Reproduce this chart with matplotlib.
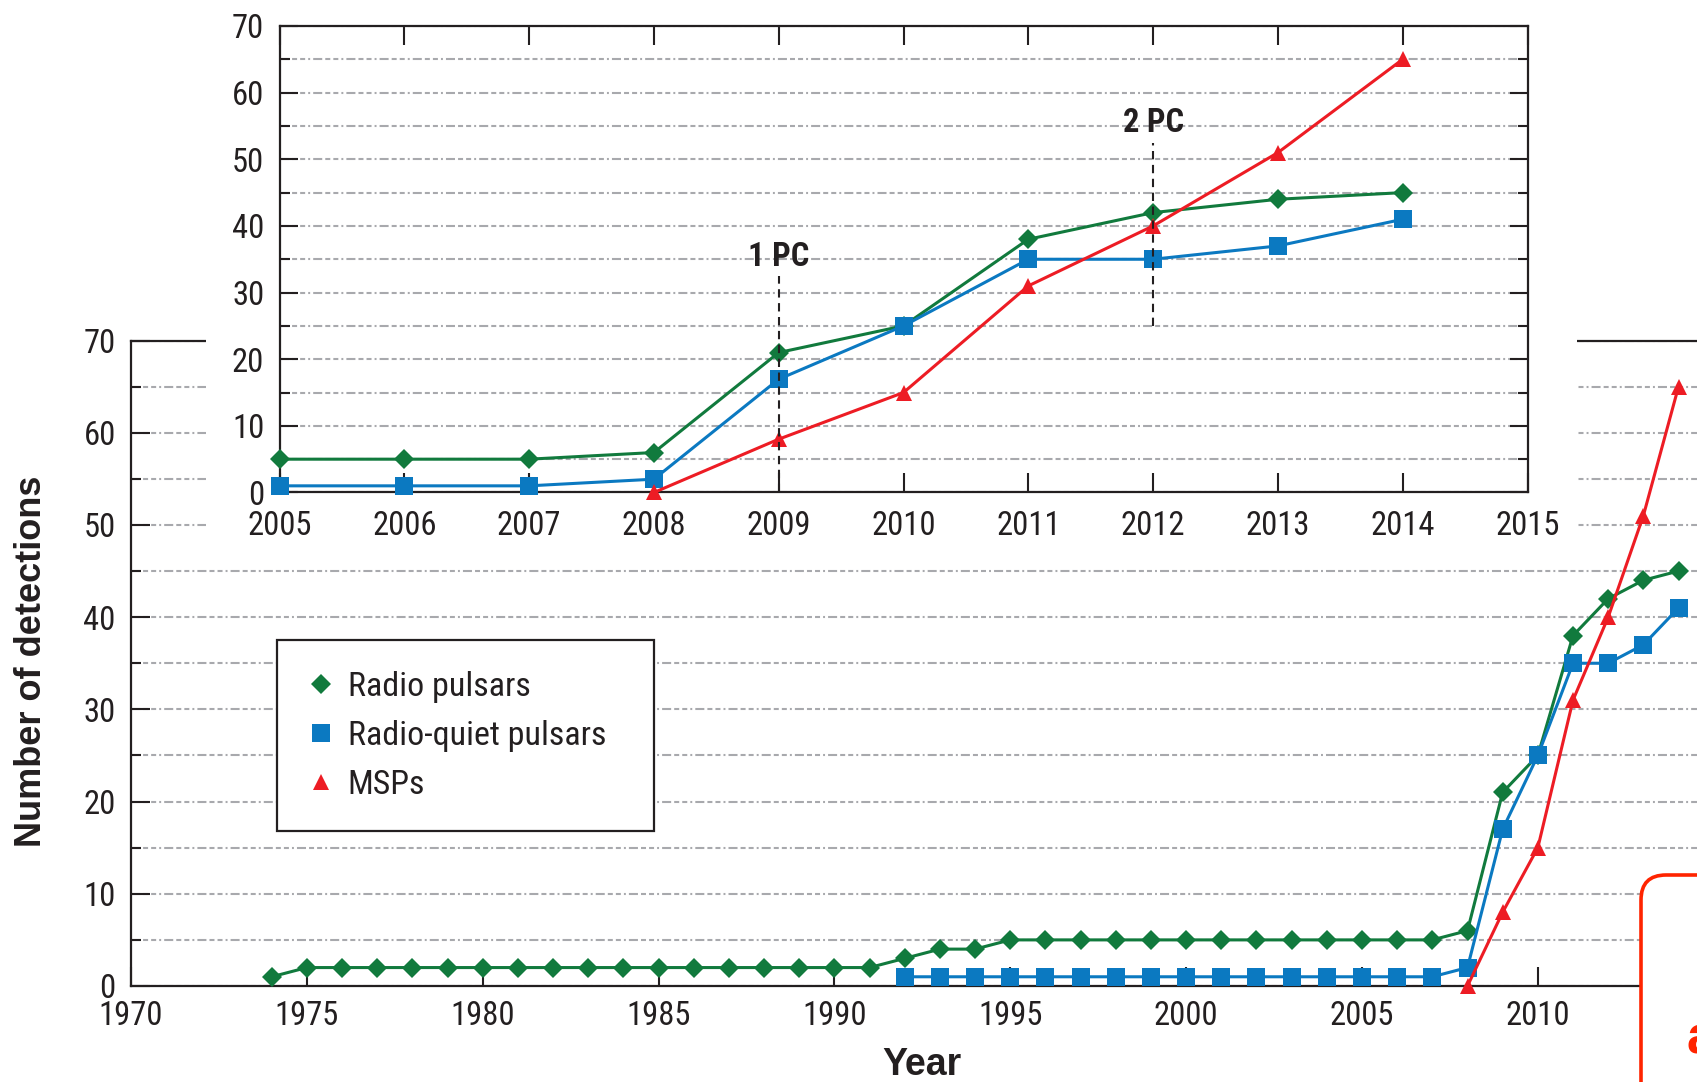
import matplotlib
matplotlib.use("Agg")
import matplotlib.pyplot as plt
from matplotlib import font_manager
from matplotlib.lines import Line2D
from matplotlib.patches import Rectangle, FancyBboxPatch
from matplotlib.ticker import MultipleLocator

# ---------------- data ----------------
radio_years = list(range(1974, 2015))
radio_pulsars = [1,
                 2, 2, 2, 2, 2, 2, 2, 2, 2, 2, 2, 2, 2, 2, 2, 2, 2,   # 1975-1991
                 3, 4, 4,                                              # 1992-1994
                 5, 5, 5, 5, 5, 5, 5, 5, 5, 5, 5, 5, 5,                # 1995-2007
                 6, 21, 25, 38, 42, 44, 45]                            # 2008-2014
quiet_years = list(range(1992, 2015))
radio_quiet = [1, 1, 1, 1, 1, 1, 1, 1, 1, 1, 1, 1, 1, 1, 1, 1,        # 1992-2007
               2, 17, 25, 35, 35, 37, 41]                              # 2008-2014
msp_years = list(range(2008, 2015))
msps = [0, 8, 15, 31, 40, 51, 65]

series_labels = ["Radio pulsars", "Radio-quiet pulsars", "MSPs"]
main_xticks = [1970, 1975, 1980, 1985, 1990, 1995, 2000, 2005, 2010, 2015]
inset_xticks = [2005, 2006, 2007, 2008, 2009, 2010, 2011, 2012, 2013, 2014, 2015]
yticks = [0, 10, 20, 30, 40, 50, 60, 70]
pc_years = [2009, 2012]
pc_labels = ["1 PC", "2 PC"]
pc_spans = [(0, 32.5), (25, 52.5)]
pc_label_y = [35.4, 55.4]
panel_letter = "a"

# ---------------- style ----------------
avail = {f.name for f in font_manager.fontManager.ttflist}
def pick(cands):
    for c in cands:
        if c in avail:
            return c
    return "DejaVu Sans"
NARROW = pick(["Liberation Sans Narrow", "Roboto Condensed", "Open Sans Condensed", "Liberation Sans"])
BOLDF = pick(["Liberation Sans Narrow", "Liberation Sans", "Open Sans"])
plt.rcParams["font.family"] = [NARROW, "DejaVu Sans"]
plt.rcParams["lines.scale_dashes"] = False

GREEN = "#117a3d"
BLUE = "#0b79c1"
RED = "#ed1c24"
GRID = "#a8a9ad"
TXT = "#231f20"
grid_ls = (0, (6.5, 2.2, 3.6, 2.2, 3.6, 2.2, 1.4, 2.2))

W, H = 1697, 1082
fig = plt.figure(figsize=(W / 100, H / 100), dpi=100)
fig.patch.set_facecolor("white")

def box(x0, y0, x1, y1):
    return [x0 / W, 1 - y1 / H, (x1 - x0) / W, (y1 - y0) / H]

styles = [
    dict(color=GREEN, marker="D", ms=10.5),
    dict(color=BLUE, marker="s", ms=12.5),
    dict(color=RED, marker="^", ms=12),
]
datasets = [(radio_years, radio_pulsars), (quiet_years, radio_quiet), (msp_years, msps)]

def style_axes(ax, xticks, inset=False):
    ax.set_ylim(0, 70)
    ax.set_xticks(xticks)
    ax.set_yticks(yticks)
    ax.yaxis.set_minor_locator(MultipleLocator(5))
    ax.yaxis.grid(True, which="both", color=GRID, lw=1.5, ls=grid_ls)
    ax.set_axisbelow(True)
    for s in ax.spines.values():
        s.set_linewidth(1.6)
        s.set_color("#231f20")
    ax.tick_params(axis="both", which="both", direction="in", colors=TXT,
                   labelsize=23.5, width=1.5)
    ax.tick_params(axis="x", which="major", length=14, pad=12.5 if inset else 10,
                   top=inset, bottom=True)
    ax.tick_params(axis="y", which="major", length=14 if not inset else 13,
                   pad=11, right=inset)
    ax.tick_params(axis="y", which="minor", length=7, right=inset)

# main axes
ax = fig.add_axes(box(131, 340.5, 1713.7, 986))
ax.set_zorder(0)
ax.set_xlim(1970, 2015)
style_axes(ax, main_xticks)
ax.spines["right"].set_visible(False)
for (xs, ys), st in zip(datasets, styles):
    ax.plot(xs, ys, lw=2.2, mew=0, clip_on=False, zorder=3, **st)
ax.set_xlabel("Year", fontsize=27, fontweight="bold", family=[BOLDF, "DejaVu Sans"],
              color=TXT, labelpad=11)
fig.text(32 / W, 1 - 661 / H, "Number of detections", rotation=90, ha="center",
         va="center", fontsize=26, fontweight="bold", family=[BOLDF, "DejaVu Sans"],
         color=TXT)

handles = [Line2D([], [], ls="none", mew=0, **st) for st in styles]
leg = ax.legend(handles, series_labels, loc="upper left",
                bbox_to_anchor=(277 / W, 1 - 829 / H, 377 / W, 189 / H),
                bbox_transform=fig.transFigure, mode="expand", borderaxespad=0,
                fontsize=24.5, frameon=True, fancybox=False, framealpha=1,
                edgecolor="#231f20", handlelength=0.8, handletextpad=0.38,
                borderpad=0.9, labelspacing=0.5, numpoints=1)
leg.get_frame().set_linewidth(1.6)
for t in leg.get_texts():
    t.set_color(TXT)

# white patch behind inset
fig.add_artist(Rectangle((206 / W, 1 - 548 / H), (1577 - 206) / W, 548 / H,
                         transform=fig.transFigure, facecolor="white",
                         edgecolor="none", zorder=1))

# inset axes
axi = fig.add_axes(box(279.5, 26, 1527.5, 492.5))
axi.set_zorder(2)
axi.set_facecolor("white")
axi.set_xlim(2005, 2015)
style_axes(axi, inset_xticks, inset=True)
for (xs, ys), st in zip(datasets, styles):
    px = [x for x in xs if x >= 2005]
    py = [y for x, y in zip(xs, ys) if x >= 2005]
    axi.plot(px, py, lw=2.2, mew=0, clip_on=False, zorder=3, **st)
for yr, lab, (y0, y1), ly in zip(pc_years, pc_labels, pc_spans, pc_label_y):
    axi.plot([yr, yr], [y0, y1], color="#231f20", lw=1.5, ls=(0, (6, 4)), zorder=4)
    axi.text(yr, ly, lab, ha="center", va="center", fontsize=23.5, fontweight="bold",
             color=TXT, zorder=5)

# red panel box (white filled)
fig.add_artist(FancyBboxPatch((1641 / 100, -0.5), 2.0, (H - 875) / 100 + 0.5,
                              boxstyle="round,pad=0,rounding_size=0.25",
                              transform=fig.dpi_scale_trans, facecolor="white",
                              edgecolor="#ff2400", lw=2.6, zorder=6))
fig.text(1686 / W, 1 - 1053 / H, panel_letter, ha="left", va="baseline",
         fontsize=38, fontweight="bold", color="#ff2400",
         family=["Liberation Sans", "DejaVu Sans"], zorder=7)

fig.savefig("out.png", dpi=100)
